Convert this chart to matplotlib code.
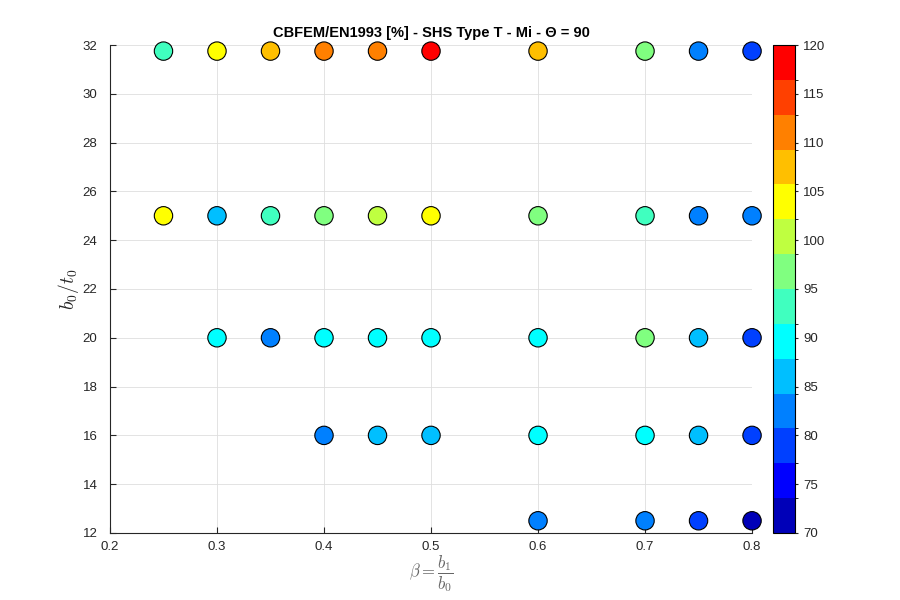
import matplotlib

matplotlib.use("Agg")
import matplotlib.pyplot as plt
from matplotlib.colors import ListedColormap, BoundaryNorm
import numpy as np

plt.rcParams.update(
    {
        "font.family": "Liberation Sans",
        "mathtext.fontset": "cm",
        "font.size": 10,
    }
)

# beta = b1/b0 and b0/t0 for every tested joint, with CBFEM/EN1993 ratio [%]
beta = [
    0.25, 0.30, 0.35, 0.40, 0.45, 0.50, 0.60, 0.70, 0.75, 0.80,
    0.25, 0.30, 0.35, 0.40, 0.45, 0.50, 0.60, 0.70, 0.75, 0.80,
    0.30, 0.35, 0.40, 0.45, 0.50, 0.60, 0.70, 0.75, 0.80,
    0.40, 0.45, 0.50, 0.60, 0.70, 0.75, 0.80,
    0.60, 0.70, 0.75, 0.80,
]
slenderness = [
    31.75, 31.75, 31.75, 31.75, 31.75, 31.75, 31.75, 31.75, 31.75, 31.75,
    25, 25, 25, 25, 25, 25, 25, 25, 25, 25,
    20, 20, 20, 20, 20, 20, 20, 20, 20,
    16, 16, 16, 16, 16, 16, 16,
    12.5, 12.5, 12.5, 12.5,
]
ratio = [
    93, 104, 107, 111, 110, 118, 107, 97, 83, 79,
    104, 86, 93, 97, 100.5, 104, 97, 93, 83, 83,
    90, 82, 90, 90, 90, 90, 97, 86, 79,
    82, 86, 86, 90, 90, 86, 79,
    83, 83, 79, 72,
]

levels = np.linspace(70, 120, 15)
cmap = ListedColormap(
    [
        (0, 0, 0.72), (0, 0, 1), (0, 0.25, 1), (0, 0.5, 1), (0, 0.75, 1),
        (0, 1, 1), (0.25, 1, 0.75), (0.5, 1, 0.5), (0.75, 1, 0.25), (1, 1, 0),
        (1, 0.75, 0), (1, 0.5, 0), (1, 0.25, 0), (1, 0, 0),
    ]
)
norm = BoundaryNorm(levels, cmap.N)

fig = plt.figure(figsize=(9, 6), dpi=100)
ax = fig.add_axes([0.1222, 0.1117, 0.7134, 0.8133])
cax = fig.add_axes([0.859, 0.1117, 0.0244, 0.8133])

ax.grid(True, color="0.87", linewidth=0.6)
ax.set_axisbelow(True)
sc = ax.scatter(
    beta, slenderness, c=ratio, cmap=cmap, norm=norm,
    s=175, edgecolors="black", linewidths=0.8, zorder=3, clip_on=False,
)

ax.set_xlim(0.2, 0.8)
ax.set_ylim(12, 32)
ax.set_xticks(np.arange(0.2, 0.81, 0.1))
ax.set_yticks(np.arange(12, 33, 2))
ax.set_xticklabels(["0.2", "0.3", "0.4", "0.5", "0.6", "0.7", "0.8"])
ax.tick_params(direction="in", length=4, colors="0.15", labelsize=9.5)
ax.tick_params(axis="y", pad=9)
ax.tick_params(axis="x", pad=6)
for side in ["top", "right"]:
    ax.spines[side].set_visible(False)
for side in ["left", "bottom"]:
    ax.spines[side].set_color("0.15")

ax.set_xlabel(r"$\beta = \dfrac{b_1}{b_0}$", fontsize=12, color="0.4", labelpad=0)
ax.set_ylabel(r"$b_0/t_0$", fontsize=14, color="0.15", labelpad=1)
ax.set_title(
    "CBFEM/EN1993 [%] - SHS Type T - Mi - \u0398 = 90",
    fontsize=10.5, fontweight="bold", pad=6,
)

cb = fig.colorbar(sc, cax=cax, ticks=np.arange(70, 121, 5))
cb.outline.set_linewidth(0.8)
cb.ax.tick_params(direction="out", length=2, labelsize=9.5, colors="0.15", pad=4)

fig.savefig("out.png", dpi=100)
